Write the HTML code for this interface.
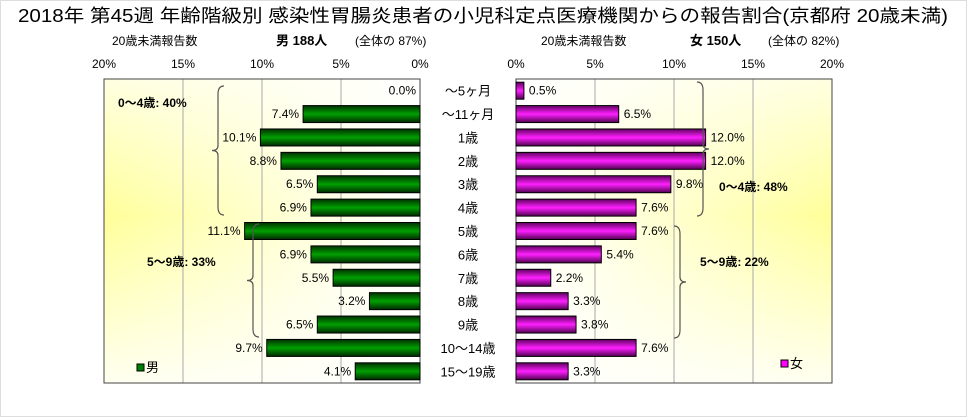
<!DOCTYPE html>
<html><head><meta charset="utf-8">
<style>
body{margin:0;background:#fff;}
svg{display:block;font-family:"Liberation Sans","Noto Sans CJK JP",sans-serif;}
</style></head>
<body>
<svg id="chart" width="967" height="417" viewBox="0 0 967 417">
<defs>
<linearGradient id="bgL" x1="0" y1="0" x2="1" y2="0"><stop offset="0" stop-color="#ffff9a"/><stop offset="1" stop-color="#ffffff"/></linearGradient>
<linearGradient id="bgR" x1="0" y1="0" x2="1" y2="0"><stop offset="0" stop-color="#ffffff"/><stop offset="1" stop-color="#ffff9a"/></linearGradient>
<linearGradient id="fade" x1="0" y1="0" x2="0" y2="1"><stop offset="0" stop-color="#fff" stop-opacity="0.7"/><stop offset="0.45" stop-color="#fff" stop-opacity="0"/><stop offset="1" stop-color="#fff" stop-opacity="0.85"/></linearGradient>
<linearGradient id="gG" x1="0" y1="0" x2="0" y2="1"><stop offset="0" stop-color="#003000"/><stop offset="0.5" stop-color="#00a000"/><stop offset="1" stop-color="#002800"/></linearGradient>
<linearGradient id="gM" x1="0" y1="0" x2="0" y2="1"><stop offset="0" stop-color="#600060"/><stop offset="0.5" stop-color="#ff20ff"/><stop offset="1" stop-color="#500050"/></linearGradient>
</defs>
<rect x="0.5" y="0.5" width="966" height="416" fill="none" stroke="#ddd"/>
<text x="18" y="22" font-size="18" textLength="930" lengthAdjust="spacingAndGlyphs">2018年 第45週 年齢階級別 感染性胃腸炎患者の小児科定点医療機関からの報告割合(京都府 20歳未満)</text>
<text x="112" y="45" font-size="12">20歳未満報告数</text>
<text x="276" y="45" font-size="13" font-weight="bold">男 188人</text>
<text x="355" y="45" font-size="12">(全体の 87%)</text>
<text x="541" y="45" font-size="12">20歳未満報告数</text>
<text x="690" y="45" font-size="13" font-weight="bold">女 150人</text>
<text x="768" y="45" font-size="12">(全体の 82%)</text>
<g id="plots"></g>
</svg>
<script>
const categories=["～5ヶ月","～11ヶ月","1歳","2歳","3歳","4歳","5歳","6歳","7歳","8歳","9歳","10～14歳","15～19歳"];
const maleValues=[0.0,7.4,10.1,8.8,6.5,6.9,11.1,6.9,5.5,3.2,6.5,9.7,4.1];
const femaleValues=[0.5,6.5,12.0,12.0,9.8,7.6,7.6,5.4,2.2,3.3,3.8,7.6,3.3];
const ticks=[0,5,10,15,20];
const NS="http://www.w3.org/2000/svg";
const g=document.getElementById('plots');
const T=79,B=383,LL=104,LR=420,RL=516,RR=832,MAX=20;
const pitch=(B-T)/categories.length;
const xL=v=>LR-(LR-LL)*v/MAX;
const xR=v=>RL+(RR-RL)*v/MAX;
const yC=i=>T+pitch*(i+0.5);
function mk(tag,attrs,parent){const e=document.createElementNS(NS,tag);for(const k in attrs)e.setAttribute(k,attrs[k]);(parent||g).appendChild(e);return e;}
function txt(x,y,s,size,anchor,bold){const e=mk('text',{x:x,y:y,'font-size':size,'text-anchor':anchor||'start'});if(bold)e.setAttribute('font-weight','bold');e.textContent=s;return e;}
let e=mk('rect',{x:LL,y:T,width:LR-LL,height:B-T,fill:'url(#bgL)'});


mk('rect',{x:LL,y:T,width:LR-LL,height:B-T,fill:'url(#fade)'});
e=mk('rect',{x:RL,y:T,width:RR-RL,height:B-T,fill:'url(#bgR)'});


mk('rect',{x:RL,y:T,width:RR-RL,height:B-T,fill:'url(#fade)'});
ticks.forEach(t=>{
  mk('line',{x1:xL(t),x2:xL(t),y1:T,y2:B,stroke:'#aaa'});
  mk('line',{x1:xR(t),x2:xR(t),y1:T,y2:B,stroke:'#aaa'});
  e=txt(xL(t),68,t+'%',12,'middle');
  
  
  e=txt(xR(t),68,t+'%',12,'middle');
  
  
});
mk('rect',{x:LL,y:T,width:LR-LL,height:B-T,fill:'none',stroke:'#444'});
mk('rect',{x:RL,y:T,width:RR-RL,height:B-T,fill:'none',stroke:'#444'});
const bh=17;
categories.forEach((c,i)=>{
  const y=yC(i);
  e=txt(468,y+5,c,13,'middle');
  
  
  const mv=maleValues[i];
  e=mk('rect',{x:xL(mv),y:y-bh/2,width:LR-xL(mv),height:bh,fill:'url(#gG)',stroke:'#000'});
  
  
  e=txt(xL(mv)-4,y+4,mv.toFixed(1)+'%',12,'end');
  
  
  const fv=femaleValues[i];
  e=mk('rect',{x:RL,y:y-bh/2,width:xR(fv)-RL,height:bh,fill:'url(#gM)',stroke:'#000'});
  
  
  e=txt(xR(fv)+5,y+4,fv.toFixed(1)+'%',12,'start');
  
  
});
function brace(x,y1,y2,dir){const m=(y1+y2)/2,d=6*dir;
  return mk('path',{d:`M${x+d},${y1} Q${x},${y1} ${x},${y1+8} L${x},${m-5} Q${x},${m} ${x-d},${m} Q${x},${m} ${x},${m+5} L${x},${y2-8} Q${x},${y2} ${x+d},${y2}`,fill:'none',stroke:'#555','stroke-width':1.2});}
e=brace(218,86,215,1);
e=brace(253,224,337,1);
e=brace(703,82,216,-1);
e=brace(680,226,338,-1);
e=txt(118,107,'0～4歳: 40%',12,'start',true);
e=txt(147,266,'5～9歳: 33%',12,'start',true);
e=txt(719,191,'0～4歳: 48%',12,'start',true);
e=txt(700,266,'5～9歳: 22%',12,'start',true);
e=mk('rect',{x:137,y:364,width:7,height:7,fill:'#008000',stroke:'#000'});
e=txt(146,372,'男',13);
e=mk('rect',{x:781,y:360,width:7,height:7,fill:'#ff00ff',stroke:'#000'});
e=txt(790,368,'女',13);
</script>
</body></html>
